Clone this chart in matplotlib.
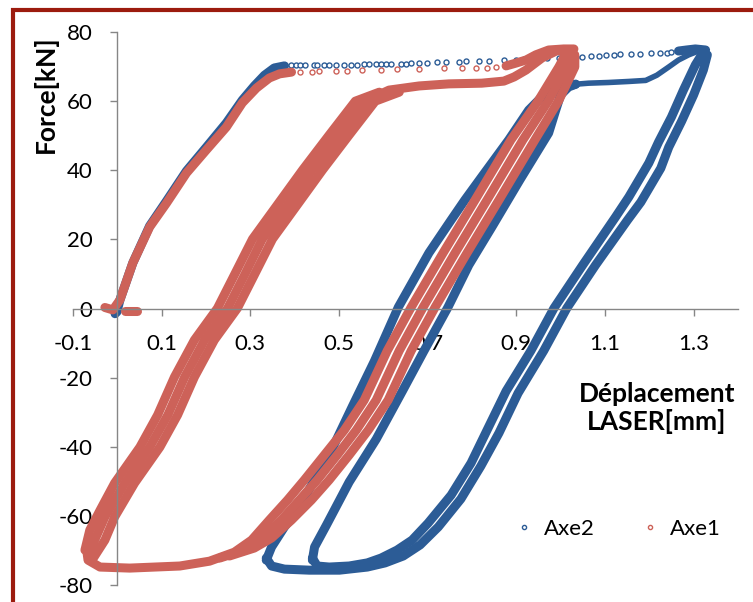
import matplotlib.pyplot as plt
from matplotlib.lines import Line2D
from matplotlib.patches import Rectangle

BLUE = "#2C5C96"
RED = "#CD6259"
GRID = "#868686"

x_ticks = [-0.1, 0.1, 0.3, 0.5, 0.7, 0.9, 1.1, 1.3]
x_ticklabels = ["-0.1", "0.1", "0.3", "0.5", "0.7", "0.9", "1.1", "1.3"]
y_ticks = [80, 60, 40, 20, 0, -20, -40, -60, -80]
y_ticklabels = ["80", "60", "40", "20", "0", "-20", "-40", "-60", "-80"]

# ---- Axe2 (blue) ----
axe2_init_x = [-0.005, -0.001, 0.006, 0.035, 0.073, 0.111, 0.156, 0.201, 0.246, 0.282, 0.309, 0.332, 0.354, 0.377]
axe2_init_y = [-1.5, -1.0, 2.5, 13.2, 23.9, 31.1, 39.8, 46.7, 53.7, 60.3, 64.4, 67.5, 69.6, 70.2]

# sparse points along the first plateau
axe2_peak_x = [0.379, 0.391, 0.402, 0.413, 0.424, 0.443, 0.451, 0.467, 0.478, 0.494, 0.512, 0.528, 0.541,
               0.557, 0.568, 0.584, 0.595, 0.607, 0.618, 0.640, 0.652, 0.663, 0.681, 0.699,
               0.721, 0.741, 0.770, 0.786, 0.816, 0.838, 0.872, 0.899, 0.917, 0.944, 0.969, 0.996,
               1.034, 1.048, 1.068, 1.086, 1.102, 1.120, 1.135, 1.158, 1.180, 1.205, 1.225, 1.239, 1.250, 1.266]
axe2_peak_y = [70.5, 70.4, 70.5, 70.6, 70.5, 70.5, 70.4, 70.5, 70.6, 70.5, 70.5, 70.6, 70.5,
               70.7, 70.7, 70.8, 70.7, 70.7, 70.8, 70.7, 70.8, 71.0, 71.0, 71.1,
               71.3, 71.3, 71.4, 71.6, 71.6, 71.7, 71.9, 71.9, 72.2, 72.2, 72.5, 72.5,
               72.8, 72.8, 73.1, 73.1, 73.4, 73.4, 73.6, 73.6, 73.7, 73.9, 73.9, 74.0, 74.2, 74.5]
axe2_tip_x = [1.266, 1.284, 1.304, 1.327]
axe2_tip_y = [74.5, 74.8, 75.1, 74.8]

# unloading branches from the peak (two close passes)
axe2_down1_x = [1.322, 1.304, 1.277, 1.250, 1.221, 1.199, 1.154, 1.124, 1.050, 0.985, 0.933, 0.877, 0.834,
                0.798, 0.753, 0.701, 0.665, 0.631, 0.595, 0.564, 0.523, 0.478, 0.451, 0.440]
axe2_down1_y = [74.2, 70.5, 63.2, 55.4, 48.2, 42.1, 32.3, 26.5, 12.6, 0.1, -12.2, -23.9, -35.2,
                -44.7, -54.0, -62.1, -67.0, -69.9, -72.2, -73.6, -74.5, -74.8, -74.5, -72.2]
axe2_down2_x = [1.331, 1.322, 1.300, 1.273, 1.244, 1.226, 1.181, 1.151, 1.079, 1.014, 0.962, 0.904, 0.861,
                0.820, 0.775, 0.724, 0.683, 0.645, 0.604, 0.564, 0.501, 0.433, 0.377, 0.348, 0.336]
axe2_down2_y = [73.4, 69.0, 61.8, 54.2, 46.7, 40.6, 30.8, 25.6, 12.6, 0.1, -12.2, -24.5, -36.0,
                -45.6, -55.1, -63.2, -68.4, -71.6, -73.6, -74.8, -75.7, -75.7, -75.4, -74.5, -72.2]

# reloading branches
axe2_up1_x = [0.336, 0.348, 0.377, 0.411, 0.449, 0.485, 0.530, 0.580, 0.634, 0.703, 0.753, 0.784, 0.822,
              0.883, 0.928, 0.962, 0.996, 1.034]
axe2_up1_y = [-72.8, -69.0, -63.2, -57.4, -48.6, -40.5, -28.4, -15.2, 0.4, 16.1, 25.6, 31.4, 38.1,
              48.8, 57.4, 61.8, 63.8, 64.9]
axe2_up2_x = [0.440, 0.445, 0.472, 0.523, 0.584, 0.643, 0.692, 0.746, 0.793, 0.845, 0.908, 0.973, 0.989,
              1.000, 1.018, 1.034]
axe2_up2_y = [-72.8, -69.0, -62.6, -50.2, -37.8, -23.9, -12.2, 0.4, 12.6, 23.6, 37.2, 50.8, 57.4,
              61.8, 64.1, 64.9]
axe2_plat_x = [1.034, 1.063, 1.108, 1.154, 1.192, 1.217, 1.244, 1.266, 1.289, 1.311, 1.327]
axe2_plat_y = [64.9, 65.2, 65.4, 65.7, 66.0, 67.5, 69.9, 71.9, 73.4, 74.5, 74.8]

# ---- Axe1 (red) ----
axe1_init_x = [-0.028, -0.010, 0.006, 0.035, 0.073, 0.111, 0.156, 0.201, 0.246, 0.282, 0.314, 0.343, 0.366, 0.393]
axe1_init_y = [0.3, -0.4, 2.5, 13.2, 23.6, 30.5, 39.2, 45.9, 52.5, 59.5, 63.8, 66.7, 67.9, 68.4]
axe1_blob_x = [0.017, 0.044]
axe1_blob_y = [-0.7, -0.7]

axe1_peak_x = [0.411, 0.440, 0.456, 0.494, 0.519, 0.553, 0.595, 0.631, 0.681, 0.737, 0.777, 0.809, 0.834, 0.854, 0.877]
axe1_peak_y = [68.4, 68.4, 68.7, 68.7, 68.7, 69.0, 69.0, 69.3, 69.3, 69.6, 69.6, 69.6, 69.6, 69.9, 70.2]
axe1_tip_x = [0.877, 0.899, 0.922, 0.944, 0.973, 1.007, 1.030]
axe1_tip_y = [70.2, 71.0, 71.9, 73.4, 74.8, 75.1, 75.1]

# unloading branches (three passes)
axe1_down1_x = [1.014, 0.996, 0.950, 0.888, 0.834, 0.807, 0.735, 0.663, 0.609, 0.557, 0.512, 0.467, 0.422,
                0.384, 0.343, 0.303, 0.264, 0.208, 0.141, 0.028, -0.039, -0.066, -0.069]
axe1_down1_y = [74.2, 69.9, 60.2, 48.8, 37.2, 31.4, 16.1, 0.4, -12.2, -26.5, -35.2, -42.4, -49.6,
                -55.4, -61.2, -67.0, -70.5, -73.1, -74.5, -75.1, -74.8, -72.8, -69.9]
axe1_down2_x = [1.023, 1.014, 0.973, 0.915, 0.861, 0.834, 0.762, 0.690, 0.636, 0.584, 0.539, 0.496, 0.451,
                0.411, 0.370, 0.325, 0.287, 0.231]
axe1_down2_y = [74.2, 69.9, 60.2, 48.8, 37.2, 31.4, 16.1, 0.4, -12.2, -26.5, -35.2, -42.4, -49.6,
                -55.4, -61.2, -67.0, -69.9, -72.2]
axe1_down3_x = [1.032, 1.032, 0.996, 0.942, 0.888, 0.861, 0.789, 0.717, 0.663, 0.611, 0.566, 0.523, 0.478,
                0.438, 0.393, 0.348, 0.309, 0.253]
axe1_down3_y = [73.4, 69.9, 60.2, 48.8, 37.2, 31.4, 16.1, 0.4, -12.2, -26.5, -35.2, -42.4, -49.6,
                -55.4, -61.2, -66.4, -69.3, -71.6]

# reloading branches (three passes)
axe1_up1_x = [-0.073, -0.062, -0.039, -0.006, 0.051, 0.091, 0.129, 0.174, 0.226, 0.264, 0.305, 0.361,
              0.418, 0.478, 0.537, 0.591]
axe1_up1_y = [-69.9, -64.1, -58.4, -50.5, -40.1, -30.8, -19.8, -9.1, 0.1, 9.7, 20.1, 30.0,
              40.1, 50.2, 60.0, 62.6]
axe1_up2_x = [-0.066, -0.051, -0.028, 0.017, 0.073, 0.114, 0.152, 0.197, 0.249, 0.287, 0.327, 0.384,
              0.440, 0.500, 0.559, 0.613, 0.681, 0.748, 0.822, 0.872, 0.895, 0.922, 0.958, 0.990, 1.023]
axe1_up2_y = [-71.3, -67.0, -60.3, -50.5, -40.1, -30.8, -19.8, -9.1, 0.1, 9.7, 20.1, 30.0,
              40.1, 50.2, 60.0, 63.2, 64.4, 65.0, 65.2, 65.8, 67.0, 69.0, 72.5, 74.5, 74.8]
axe1_up3_x = [-0.057, -0.028, -0.006, 0.039, 0.096, 0.136, 0.174, 0.219, 0.271, 0.309, 0.350, 0.406,
              0.463, 0.523, 0.582, 0.636]
axe1_up3_y = [-72.8, -67.0, -60.3, -50.5, -40.1, -30.8, -19.8, -9.1, 0.1, 9.7, 20.1, 30.0,
              40.1, 50.2, 60.0, 62.6]

legend_labels = ["Axe2", "Axe1"]


def dense(ax, x, y, color, lw=6.5):
    ax.plot(x, y, "-", color=color, lw=lw, solid_capstyle="round", solid_joinstyle="round")


def sparse(ax, x, y, color):
    ax.plot(x, y, "o", ls="none", ms=3.6, mfc="white", mec=color, mew=1.0)


def main():
    plt.rcParams["font.family"] = ["Lato", "DejaVu Sans"]
    fig = plt.figure(figsize=(7.53, 6.02), dpi=100)
    ax = fig.add_axes([0.0969, 0.0282, 0.8831, 0.9186])

    # Axe2 first so Axe1 sits on top
    sparse(ax, axe2_peak_x, axe2_peak_y, BLUE)
    for xs, ys in ((axe2_init_x, axe2_init_y), (axe2_tip_x, axe2_tip_y),
                   (axe2_down1_x, axe2_down1_y), (axe2_down2_x, axe2_down2_y),
                   (axe2_up1_x, axe2_up1_y), (axe2_up2_x, axe2_up2_y)):
        dense(ax, xs, ys, BLUE)
    dense(ax, axe2_plat_x, axe2_plat_y, BLUE, lw=4)

    sparse(ax, axe1_peak_x, axe1_peak_y, RED)
    for xs, ys in ((axe1_init_x, axe1_init_y), (axe1_blob_x, axe1_blob_y), (axe1_tip_x, axe1_tip_y),
                   (axe1_down1_x, axe1_down1_y), (axe1_down2_x, axe1_down2_y), (axe1_down3_x, axe1_down3_y),
                   (axe1_up1_x, axe1_up1_y), (axe1_up2_x, axe1_up2_y), (axe1_up3_x, axe1_up3_y)):
        dense(ax, xs, ys, RED)

    ax.set_xlim(-0.1, 1.4)
    ax.set_ylim(-80, 80)
    ax.set_xticks(x_ticks)
    ax.set_xticklabels(x_ticklabels)
    ax.set_yticks(y_ticks)
    ax.set_yticklabels(y_ticklabels)
    ax.spines["left"].set_position(("data", 0))
    ax.spines["bottom"].set_position(("data", 0))
    for side in ("top", "right"):
        ax.spines[side].set_visible(False)
    for side in ("left", "bottom"):
        ax.spines[side].set_color(GRID)
        ax.spines[side].set_linewidth(1)
    ax.tick_params(axis="both", direction="out", length=5, width=1, color=GRID, labelsize=16)
    ax.tick_params(axis="x", pad=13)
    ax.tick_params(axis="y", pad=13)

    fig.text(0.0598, 0.844, "Force[kN]", rotation=90, ha="center", va="center",
             fontsize=19, fontweight="bold")
    fig.text(0.8725, 0.322, "Déplacement\nLASER[mm]", ha="center", va="center",
             fontsize=19, fontweight="bold", linespacing=1.15)

    handles = [Line2D([], [], marker="o", ls="none", ms=3, mfc="white", mec=c, mew=1) for c in (BLUE, RED)]
    ax.legend(handles, legend_labels, ncol=2, frameon=False, fontsize=16, loc="center",
              bbox_to_anchor=(0.822, 0.121), bbox_transform=fig.transFigure,
              handlelength=0.6, handletextpad=0.6, columnspacing=2.2)

    fig.patches.append(Rectangle((0.0173, -0.1), 1.2, 1.083, transform=fig.transFigure,
                                 fill=False, edgecolor="#9C1B0E", lw=3))

    fig.savefig("out.png", dpi=100)


if __name__ == "__main__":
    main()
